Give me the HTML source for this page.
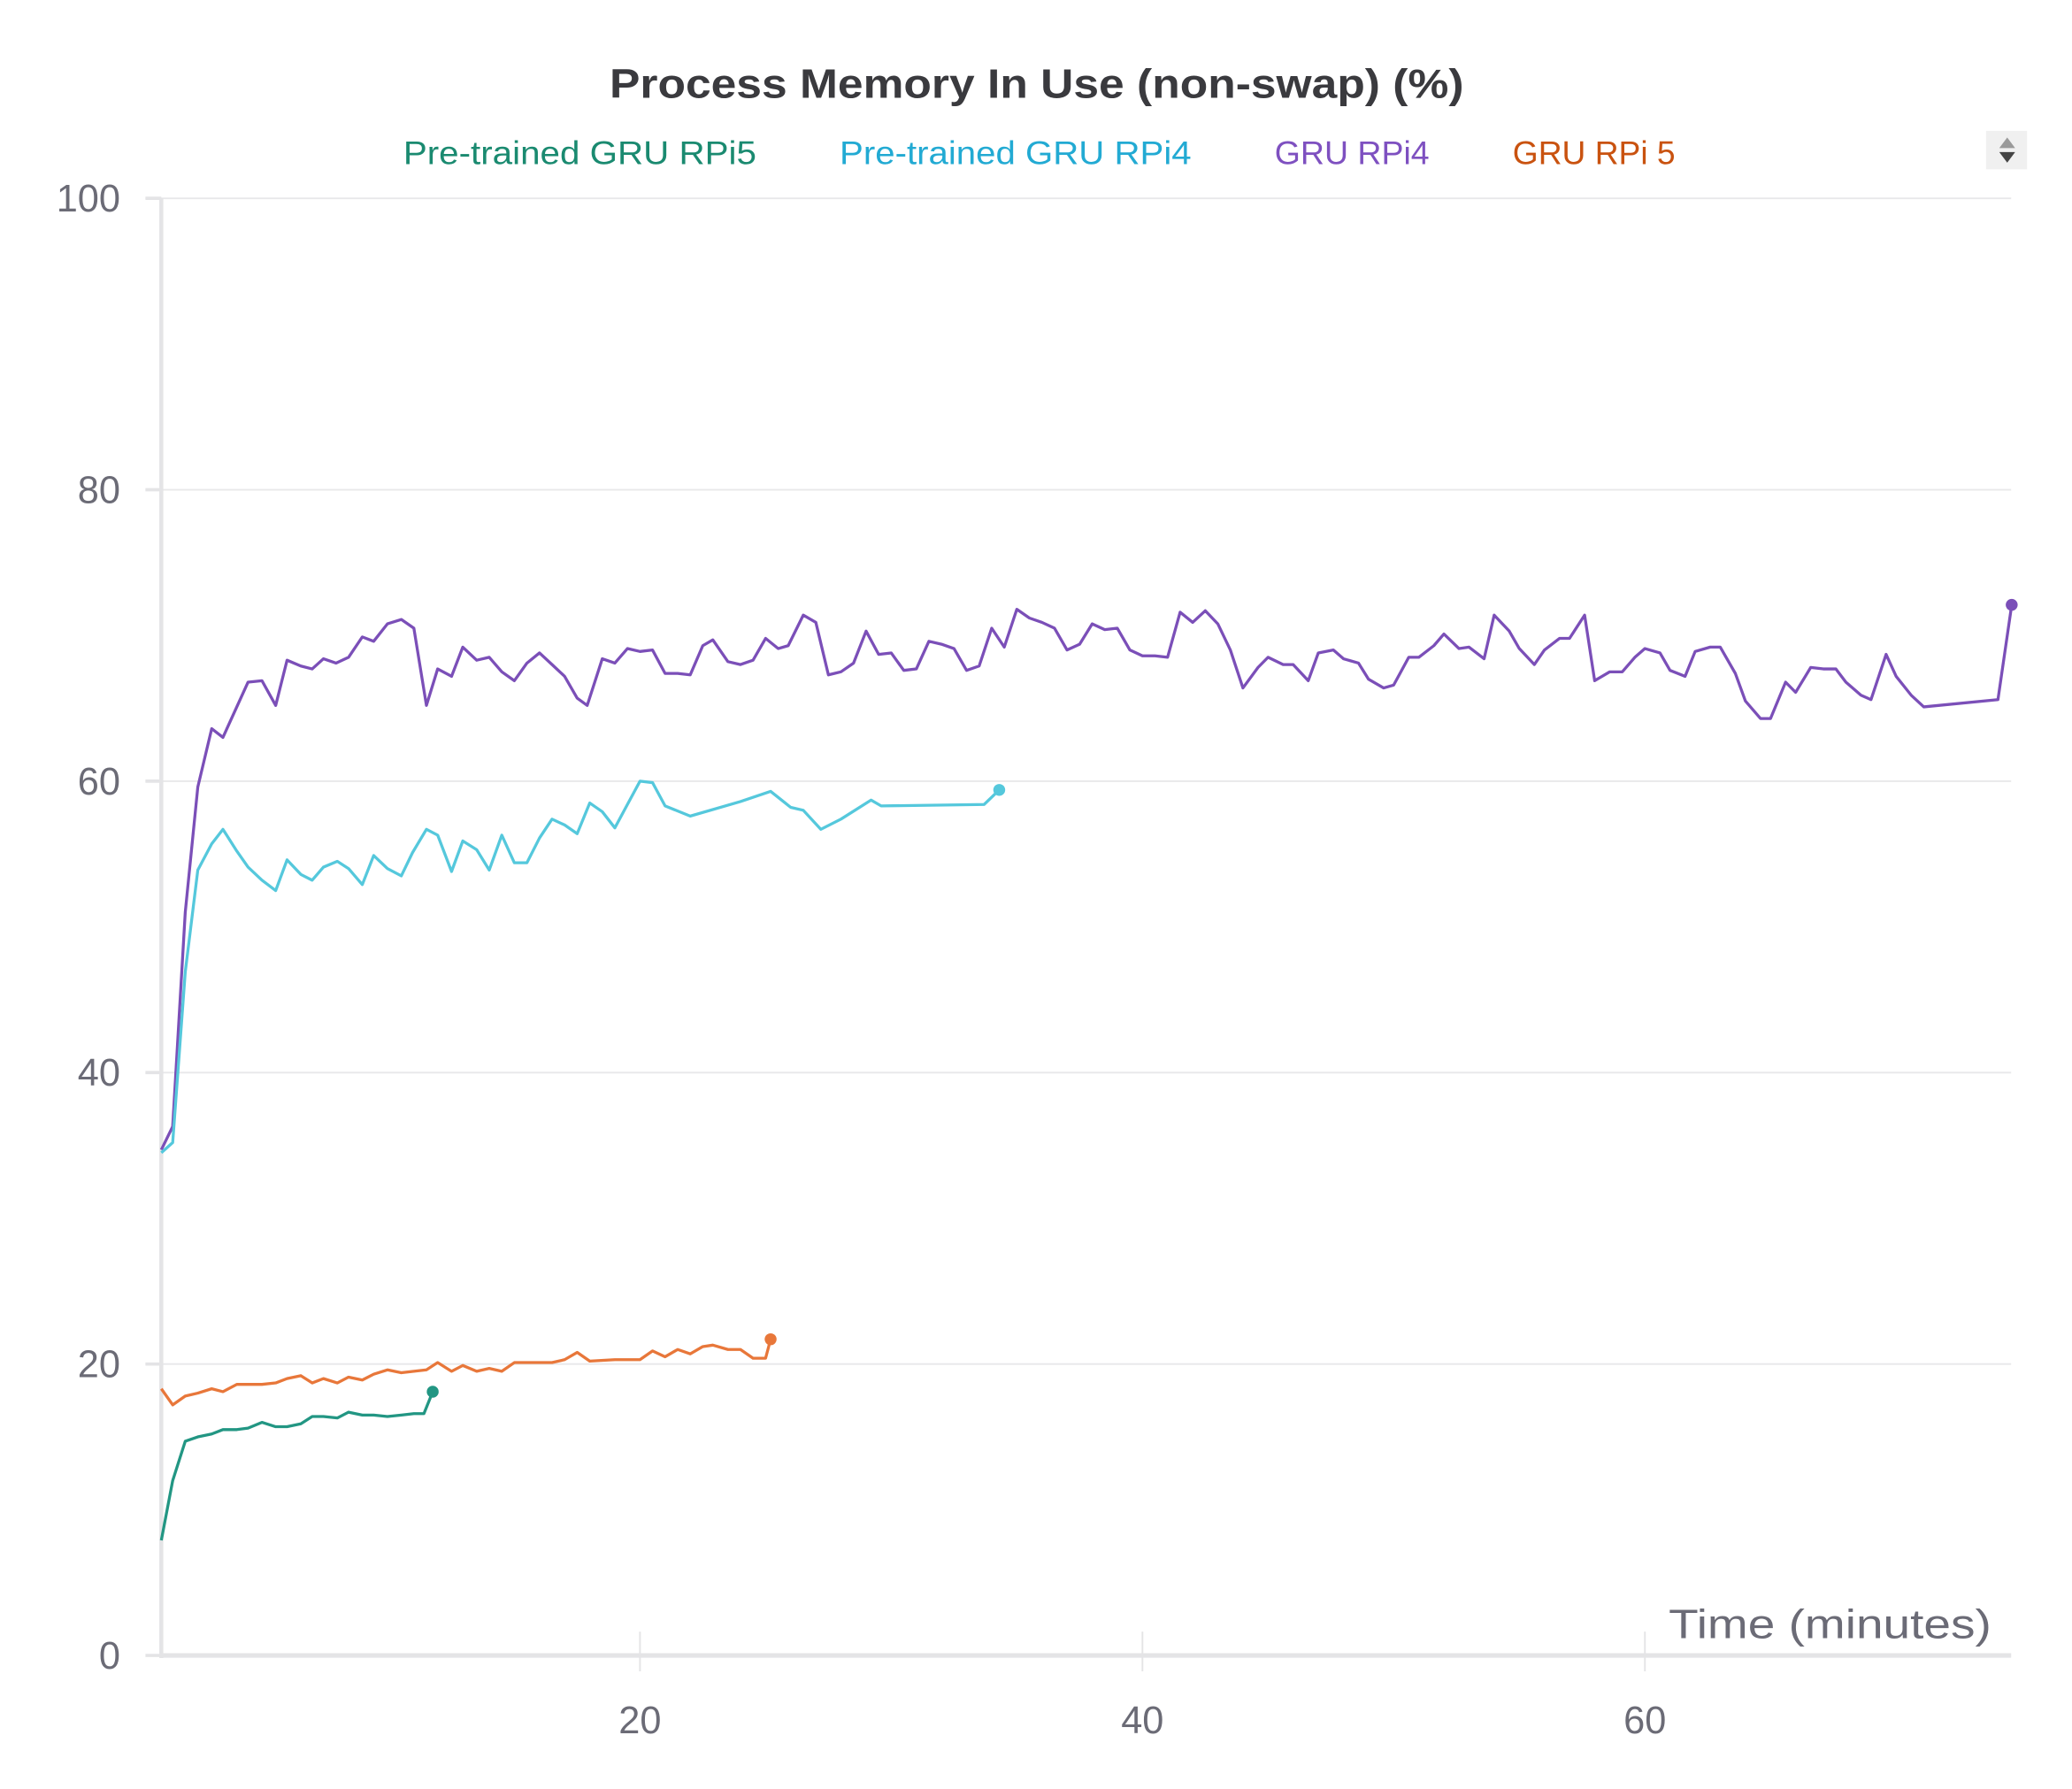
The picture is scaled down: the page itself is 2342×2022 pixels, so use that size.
<!DOCTYPE html>
<html><head><meta charset="utf-8"><style>
html,body{margin:0;padding:0;background:#fff;}
svg{display:block;font-family:"Liberation Sans",sans-serif;}
</style></head><body>
<svg id="chart" width="2342" height="2022" viewBox="0 0 1567 1353" preserveAspectRatio="none" xmlns="http://www.w3.org/2000/svg">
<text x="784" y="74" text-anchor="middle" font-size="31" font-weight="bold" fill="#3a3a3e" textLength="646" lengthAdjust="spacingAndGlyphs">Process Memory In Use (non-swap) (%)</text>
<g font-size="25">
<text x="305" y="124" fill="#1a8a70" textLength="267" lengthAdjust="spacingAndGlyphs">Pre-trained GRU RPi5</text>
<text x="635" y="124" fill="#22aad3" textLength="266" lengthAdjust="spacingAndGlyphs">Pre-trained GRU RPi4</text>
<text x="964" y="124" fill="#7e50c0" textLength="117" lengthAdjust="spacingAndGlyphs">GRU RPi4</text>
<text x="1144" y="124" fill="#c9520f" textLength="123" lengthAdjust="spacingAndGlyphs">GRU RPi 5</text>
</g>
<g>
<rect x="1502" y="99" width="31" height="29" fill="#f0f0f0"/>
<polygon points="1512,112 1524,112 1518,104" fill="#9a9a9a"/>
<polygon points="1512,115 1524,115 1518,123" fill="#444"/>
</g>
<g id="grid"></g>
<g id="axes"></g>
<g id="series"></g>
<text x="1506" y="1239" text-anchor="end" font-size="31" fill="#6b6b76" textLength="244" lengthAdjust="spacingAndGlyphs">Time (minutes)</text>
</svg>
<script>
const yTicks=[0,20,40,60,80,100];
const xTicks=[20,40,60];
const rpi5PreX=[0.95,1.4,1.9,2.4,2.95,3.4,3.95,4.4,4.95,5.5,5.95,6.5,6.95,7.4,7.95,8.4,8.95,9.4,9.95,10.5,11,11.4,11.75];
const rpi5PreY=[7.9,12,14.7,15,15.2,15.5,15.5,15.6,16,15.7,15.7,15.9,16.4,16.4,16.3,16.7,16.5,16.5,16.4,16.5,16.6,16.6,18.1];
const rpi4PreX=[0.95,1.4,1.9,2.4,2.95,3.4,3.95,4.4,4.95,5.5,5.95,6.5,6.95,7.4,7.95,8.4,8.95,9.4,9.95,10.5,10.95,11.5,11.95,12.5,12.95,13.5,14,14.5,15,15.5,16,16.5,17,17.5,18,18.5,19,19.5,20,20.5,21,22,24,25.2,26,26.5,27.2,28,29.2,29.6,33.7,34.3];
const rpi4PreY=[34.5,35.2,46.9,53.9,55.7,56.7,55.2,54.1,53.2,52.5,54.6,53.6,53.2,54.1,54.5,54,52.9,54.9,54,53.5,55.1,56.7,56.3,53.8,55.9,55.3,53.9,56.3,54.4,54.4,56.1,57.4,57,56.4,58.5,57.9,56.8,58.4,60,59.9,58.3,57.6,58.6,59.3,58.2,58,56.7,57.4,58.7,58.3,58.4,59.4];
const rpi4X=[0.95,1.4,1.9,2.4,2.95,3.4,4.4,4.95,5.5,5.95,6.5,6.95,7.4,7.9,8.4,8.95,9.4,9.95,10.5,11,11.5,11.95,12.5,12.95,13.5,14,14.5,15,15.5,16,16.5,17,17.5,17.9,18.5,19,19.5,20,20.5,21,21.5,22,22.5,22.9,23.5,24,24.5,25,25.5,25.9,26.5,27,27.5,28,28.5,29,29.5,30,30.5,31,31.5,32,32.5,33,33.5,34,34.5,35,35.5,36,36.5,37,37.5,38,38.5,39,39.5,40,40.5,41,41.5,42,42.5,43,43.5,44,44.6,45,45.6,46,46.6,47,47.6,48,48.6,49,49.6,50,50.6,51,51.6,52,52.6,53,53.6,54,54.6,55,55.6,56,56.6,57,57.6,58,58.6,59.1,59.6,60,60.6,61,61.6,62,62.6,63,63.6,64,64.6,65,65.6,66,66.6,67.1,67.6,68,68.6,69,69.6,70,70.6,71.1,74.05,74.6];
const rpi4Y=[34.7,36.3,51,59.6,63.6,63,66.8,66.9,65.2,68.3,67.9,67.7,68.4,68.1,68.5,69.9,69.6,70.8,71.1,70.5,65.2,67.7,67.2,69.2,68.3,68.5,67.5,66.9,68.1,68.8,68,67.2,65.7,65.2,68.4,68.1,69.1,68.9,69,67.4,67.4,67.3,69.3,69.7,68.2,68,68.3,69.8,69.1,69.3,71.4,70.9,67.3,67.5,68.1,70.3,68.7,68.8,67.6,67.7,69.6,69.4,69.1,67.6,67.9,70.5,69.2,71.8,71.2,70.9,70.5,69,69.4,70.8,70.4,70.5,69,68.6,68.6,68.5,71.6,70.9,71.7,70.8,69,66.4,67.8,68.5,68,68,66.9,68.8,69,68.4,68.1,67,66.4,66.6,68.5,68.5,69.3,70.1,69.1,69.2,68.4,71.4,70.3,69.1,68,69,69.8,69.8,71.4,66.9,67.5,67.5,68.5,69.1,68.8,67.6,67.2,68.9,69.2,69.2,67.4,65.5,64.3,64.3,66.8,66.1,67.8,67.7,67.7,66.8,65.9,65.6,68.7,67.2,65.9,65.1,65.6,72.1];
const rpi5X=[0.95,1.4,1.9,2.4,2.95,3.4,3.95,4.95,5.5,5.95,6.5,6.95,7.4,7.95,8.4,8.95,9.4,9.95,10.5,11.5,11.95,12.5,12.95,13.5,14,14.5,15,15.5,16.5,17,17.5,18,19,20,20.5,21,21.5,22,22.5,22.9,23.5,24,24.5,25,25.2];
const rpi5Y=[18.3,17.2,17.8,18,18.3,18.1,18.6,18.6,18.7,19,19.2,18.7,19,18.7,19.1,18.9,19.3,19.6,19.4,19.6,20.1,19.5,19.9,19.5,19.7,19.5,20.1,20.1,20.1,20.3,20.8,20.2,20.3,20.3,20.9,20.5,21,20.7,21.2,21.3,21,21,20.4,20.4,21.7];

const NS="http://www.w3.org/2000/svg";
const X0=122,X1=1521,Y0=1252;
function xs(v){return 104+v*19;}
function ys(v){return Y0-v*11.02;}
function mk(tag,attrs,parent){const e=document.createElementNS(NS,tag);for(const k in attrs)e.setAttribute(k,attrs[k]);parent.appendChild(e);return e;}
const grid=document.getElementById('grid'),axes=document.getElementById('axes'),series=document.getElementById('series');
yTicks.forEach(t=>{
  if(t>0){const l=mk('line',{x1:110,x2:X1,y1:ys(t),y2:ys(t),stroke:'#e8e8ea','stroke-width':1.3},grid);
  
  }
  const tk=mk('line',{x1:110,x2:X0,y1:ys(t),y2:ys(t),stroke:'#e4e4e6','stroke-width':2.5},axes);
  
  
  const tx=mk('text',{x:91,y:ys(t)+10,'text-anchor':'end','font-size':29,fill:'#6b6b76'},axes);
  tx.textContent=t;
  
  
});
xTicks.forEach(t=>{
  const tk=mk('line',{x1:xs(t),x2:xs(t),y1:1234,y2:1264,stroke:'#e4e4e6','stroke-width':1.3},axes);
  
  
  const tx=mk('text',{x:xs(t),y:1311,'text-anchor':'middle','font-size':29,fill:'#6b6b76'},axes);
  tx.textContent=t;
  
  
});
const ya=mk('line',{x1:X0,x2:X0,y1:150,y2:Y0+2,stroke:'#e4e4e6','stroke-width':3},axes);


const xa=mk('line',{x1:X0,x2:X1,y1:Y0,y2:Y0,stroke:'#e4e4e6','stroke-width':3.5},axes);


function draw(xsArr,ysArr,color,name){
  const d=xsArr.map((v,i)=>(i?'L':'M')+xs(v).toFixed(1)+','+ys(ysArr[i]).toFixed(1)).join(' ');
  const p=mk('path',{d:d,fill:'none',stroke:color,'stroke-width':2.2,'stroke-linejoin':'round'},series);
  
  
  const n=xsArr.length-1;
  const c=mk('circle',{cx:xs(xsArr[n]),cy:ys(ysArr[n]),r:4.5,fill:color},series);
  
  
}
draw(rpi4X,rpi4Y,'#7b4fb8','gru-rpi4');
draw(rpi4PreX,rpi4PreY,'#55c8dc','pretrained-gru-rpi4');
draw(rpi5X,rpi5Y,'#e8773a','gru-rpi5');
draw(rpi5PreX,rpi5PreY,'#229683','pretrained-gru-rpi5');
</script>
</body></html>
